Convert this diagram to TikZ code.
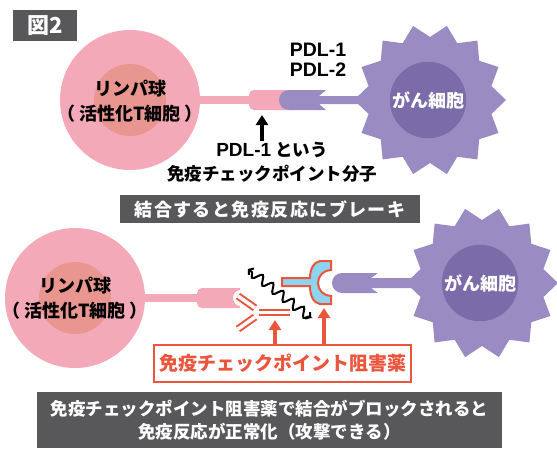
\documentclass[tikz,border=0pt]{standalone}
\usepackage{fontspec}
\setmainfont{Noto Sans CJK JP}
\newfontfamily\latinfont{Liberation Sans}
\usetikzlibrary{arrows.meta,positioning,calc,decorations.pathmorphing}

\definecolor{figgray}{HTML}{58585A}
\definecolor{lymphout}{HTML}{F4A9B9}
\definecolor{lymphin}{HTML}{E8968F}
\definecolor{cancerout}{HTML}{9A8CC3}
\definecolor{cancerin}{HTML}{7B6BA8}
\definecolor{drugred}{HTML}{EA553B}
\definecolor{drugblue}{HTML}{8ED4F0}

\tikzset{
  graybox/.style={fill=figgray, text=white, inner sep=0pt, align=center,
    font=\bfseries\fontsize{17.5}{23}\selectfont},
  celltext/.style={align=center, inner sep=1pt, font=\bfseries\fontsize{18}{25}\selectfont},
  antibody/.style={draw=drugred, line width=2pt, double=white, double distance=3.5pt},
  redarrow/.style={drugred, line width=3.5pt, -{Triangle[width=12pt,length=10pt]}},
}
% T-cell caption with wide brackets
\newcommand{\tcell}{リンパ球\\（\kern4pt 活性化T細胞\kern4pt ）}

\begin{document}
\begin{tikzpicture}[x=1pt,y=-1pt]
\useasboundingbox (0,0) rectangle (557,448);

\node[graybox, minimum width=64pt, minimum height=31pt, font=\bfseries\fontsize{22}{22}\selectfont] (fignum) at (45,25.5) {図2};

% --- upper half: PD-1 meets PD-L1 ---
% lymphocyte
\node[circle, fill=lymphout, minimum size=140pt, inner sep=0pt] (lymA) at (130,100) {};
\node[circle, fill=lymphin, minimum size=72pt, inner sep=0pt] (lymAcore) at (lymA) {};
\node[celltext] (lymAtext) at (130,101) {\tcell};

% PD-1 receptor
\fill[lymphout] (190,96) rectangle (255,104);
\fill[lymphout] (292,90) [rounded corners=5pt] -- (249,90) -- (249,110) [sharp corners] -- (292,110) -- cycle;

% PD-L1 ligand
\fill[cancerout] (289,90) -- (326,90) -- (319,96) -- (365,96) -- (365,104) -- (319,104) -- (326,110)
  -- (289,110) arc[start angle=90, end angle=270, radius=10] -- cycle;

% cancer cell
\begin{scope}[shift={(430,100)}]
  \fill[cancerout] (0:76) \foreach \k in {1,...,27} {-- ({\k*180/14}:{ifthenelse(mod(\k,2)==0,76,63)})} -- cycle;
\end{scope}
\node[circle, fill=cancerin, minimum size=74pt, text=white, celltext] (canA) at (428,100) {がん細胞};

\node[celltext, font=\bfseries\fontsize{19.5}{20}\selectfont\latinfont] (pdl) at (318,60) {PDL-1\\PDL-2};
\node[celltext, font=\bfseries\fontsize{17.5}{24}\selectfont] (pd1label) at (272,162) {{\fontsize{19}{24}\selectfont\latinfont PDL-1} という\\免疫チェックポイント分子};
\coordinate (pd1tip) at (262,115);
\draw[line width=3.5pt, -{Triangle[width=12pt,length=10pt]}] (pd1label.north -| pd1tip) -- (pd1tip);

\node[graybox, minimum width=300pt, minimum height=28pt, font=\bfseries\fontsize{18}{23}\selectfont\addfontfeature{LetterSpace=8}] (brake) at (270,209) {結合すると免疫反応にブレーキ};

% --- lower half: blocked by checkpoint inhibitors ---
\node[circle, fill=lymphout, minimum size=140pt, inner sep=0pt] (lymB) at (75,298) {};
\node[circle, fill=lymphin, minimum size=72pt, inner sep=0pt] (lymBcore) at (lymB) {};
\node[celltext] (lymBtext) at (75,298) {\tcell};

\fill[lymphout] (135,294) rectangle (202,302);
\fill[lymphout] (240,288) [rounded corners=5pt] -- (197,288) -- (197,308) [sharp corners] -- (240,308) -- cycle;
\fill[white] (241,298) circle (8);

% anti-PD-1 antibody
\draw[antibody] (259,312.5) -- (290,312.5);
\draw[antibody] (255,308) -- (238,296);
\draw[antibody] (255,317) -- (238,329);

% blocked signal
\coordinate (waveA) at (248,269);
\coordinate (waveB) at (311,318);
\draw[line width=2pt, {Straight Barb[length=3pt,width=8pt]}-{Straight Barb[length=3pt,width=8pt]},
  decorate, decoration={snake, amplitude=4.5pt, segment length=13pt, pre length=2pt, post length=2pt}] (waveB) -- (waveA);

% anti-PD-L1 antibody
\draw[drugred, fill=drugblue, line width=2pt] (282,278) -- (310,278) .. controls (310,270) and (313,262) .. (320,261)
  -- (331,261) -- (331,270) arc[start angle=270, end angle=90, radius=13] -- (331,304) -- (320,304)
  .. controls (313,303) and (310,295) .. (310,286) -- (282,286) -- cycle;

% PD-L1 ligand
\fill[cancerout] (342,273) -- (378,273) -- (371,278) -- (418,278) -- (418,288) -- (371,288) -- (378,293)
  -- (342,293) arc[start angle=90, end angle=270, radius=10] -- cycle;

\begin{scope}[shift={(482,283)}]
  \fill[cancerout] (0:76) \foreach \k in {1,...,27} {-- ({\k*180/14}:{ifthenelse(mod(\k,2)==0,76,63)})} -- cycle;
\end{scope}
\node[circle, fill=cancerin, minimum size=74pt, text=white, celltext] (canB) at (480,283) {がん細胞};

\node[draw=drugred, line width=2pt, fill=white, text=drugred, minimum width=257pt, minimum height=37pt,
  font=\bfseries\fontsize{19}{19}\selectfont] (drug) at (282.5,363.5) {免疫チェックポイント阻害薬};
\coordinate (abTip) at (275,320);
\coordinate (cupTip) at (324,308);
\draw[redarrow] (drug.north -| abTip) -- (abTip);
\draw[redarrow] (drug.north -| cupTip) -- (cupTip);

\node[graybox, minimum width=465pt, minimum height=56pt] (result) at (269.5,420)
  {免疫チェックポイント阻害薬で結合がブロックされると\\免疫反応が正常化（攻撃できる）};
\end{tikzpicture}
\end{document}
